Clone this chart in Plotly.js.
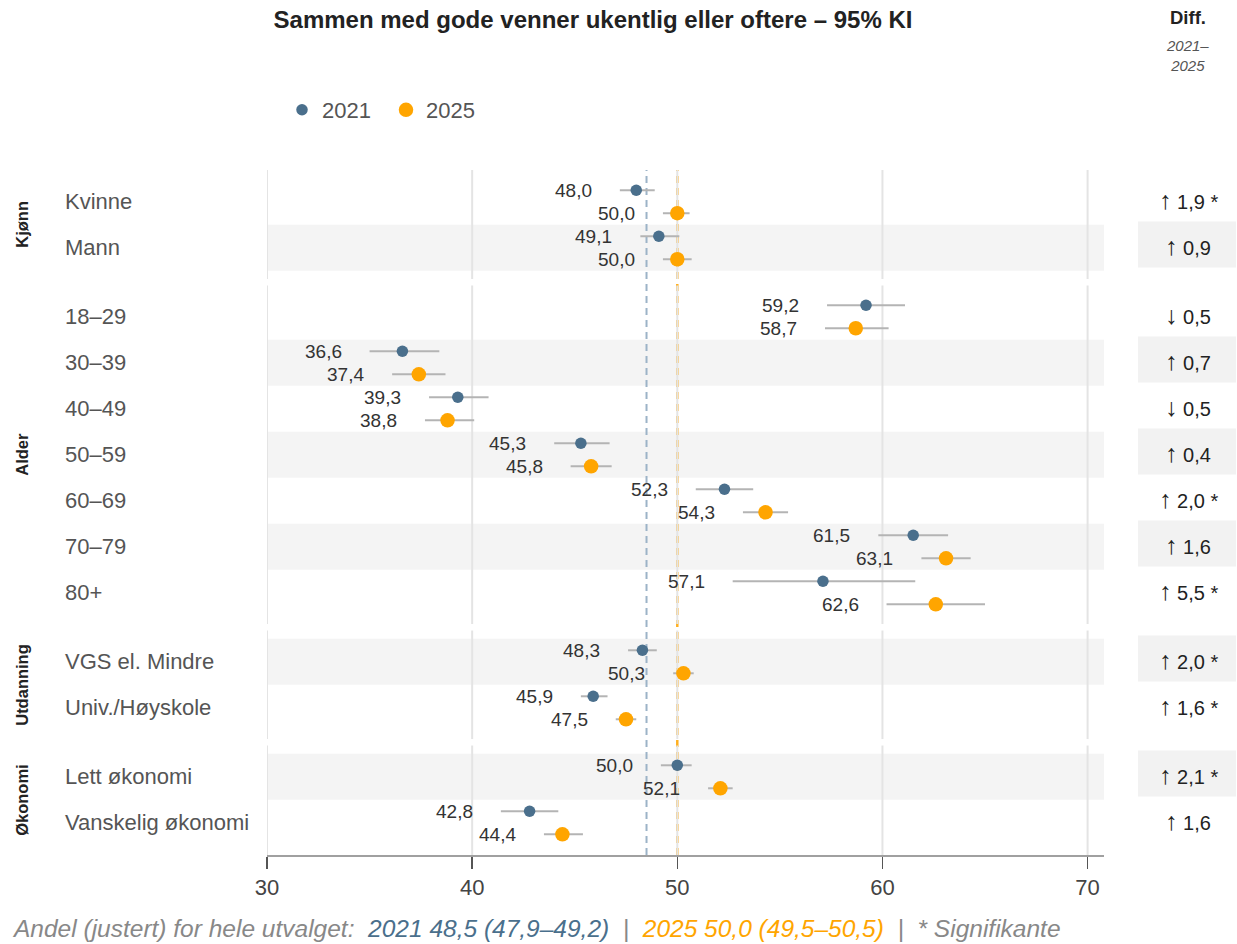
<!DOCTYPE html>
<html>
<head>
<meta charset="utf-8">
<script src="https://cdn.plot.ly/plotly-3.0.1.min.js"></script>
<style>html,body{margin:0;padding:0;background:#fff;}#chart{width:1237px;height:944px;}</style>
</head>
<body>
<div id="chart"></div>
<script>
// ---------- data ----------
const groups = ['Kjønn', 'Alder', 'Utdanning', 'Økonomi'];
const categories = ['Kvinne', 'Mann', '18–29', '30–39', '40–49', '50–59', '60–69', '70–79', '80+',
  'VGS el. Mindre', 'Univ./Høyskole', 'Lett økonomi', 'Vanskelig økonomi'];
const categoryGroup = [0, 0, 1, 1, 1, 1, 1, 1, 1, 2, 2, 3, 3];

const val2021 = [48.0, 49.1, 59.2, 36.6, 39.3, 45.3, 52.3, 61.5, 57.1, 48.3, 45.9, 50.0, 42.8];
const lo2021  = [47.2, 48.2, 57.3, 35.0, 37.9, 44.0, 50.9, 59.8, 52.7, 47.6, 45.3, 49.2, 41.4];
const hi2021  = [48.9, 50.1, 61.1, 38.4, 40.8, 46.7, 53.7, 63.2, 61.6, 49.0, 46.6, 50.7, 44.2];

const val2025 = [50.0, 50.0, 58.7, 37.4, 38.8, 45.8, 54.3, 63.1, 62.6, 50.3, 47.5, 52.1, 44.4];
const lo2025  = [49.3, 49.3, 57.2, 36.1, 37.7, 44.8, 53.2, 61.9, 60.2, 49.8, 47.0, 51.5, 43.5];
const hi2025  = [50.6, 50.7, 60.3, 38.7, 40.1, 46.8, 55.4, 64.3, 65.0, 50.8, 48.0, 52.7, 45.4];

const diffValues  = [1.9, 0.9, -0.5, 0.7, -0.5, 0.4, 2.0, 1.6, 5.5, 2.0, 1.6, 2.1, 1.6];
const diffSignif  = [true, false, false, false, false, false, true, false, true, true, true, true, false];

const overall2021 = 48.5, overall2021Lo = 47.9, overall2021Hi = 49.2;
const overall2025 = 50.0, overall2025Lo = 49.5, overall2025Hi = 50.5;

const xTicks = [30, 40, 50, 60, 70];

// ---------- styling ----------
const C21 = '#4a6f8c', C25 = '#ffa500';
const FONT = 'Liberation Sans, Arial, Helvetica, sans-serif';
const fmt = v => v.toFixed(1).replace('.', ',');

// row positions: 1 unit per row, extra half unit between groups
const pos = categories.map((c, i) => i + 0.5 * categoryGroup[i]);
const OFF = 0.25;
const yTop = -0.69, yBot = 14.2;

function ciXY(lo, hi, off) {
  const x = [], y = [];
  lo.forEach((l, i) => { x.push(l, hi[i], null); y.push(pos[i] + off, pos[i] + off, null); });
  return {x, y};
}
const ci21 = ciXY(lo2021, hi2021, -OFF);
const ci25 = ciXY(lo2025, hi2025, OFF);

const traces = [
  {type: 'scatter', mode: 'lines', x: ci21.x, y: ci21.y, line: {color: '#b4b4b4', width: 2},
   showlegend: false, hoverinfo: 'skip'},
  {type: 'scatter', mode: 'lines', x: ci25.x, y: ci25.y, line: {color: '#b4b4b4', width: 2},
   showlegend: false, hoverinfo: 'skip'},
  {type: 'scatter', mode: 'markers', name: '2021', x: val2021, y: pos.map(p => p - OFF),
   marker: {color: C21, size: 11.5}},
  {type: 'scatter', mode: 'markers', name: '2025', x: val2025, y: pos.map(p => p + OFF),
   marker: {color: C25, size: 14.5}}
];

// ---------- shapes ----------
const shapes = [];
const plotL = 267, plotR = 1104, W = plotR - plotL;
const px2paper = px => (px - plotL) / W;

pos.forEach((p, i) => {
  if (i % 2 === 1) {
    shapes.push({type: 'rect', layer: 'below', xref: 'paper', yref: 'y', x0: 0, x1: 1,
      y0: p - 0.5, y1: p + 0.5, fillcolor: '#f4f4f4', line: {width: 0}});
    shapes.push({type: 'rect', layer: 'below', xref: 'paper', yref: 'y',
      x0: px2paper(1138), x1: px2paper(1236),
      y0: p - 0.57, y1: p + 0.43, fillcolor: '#f2f2f2', line: {width: 0}});
  }
});

const gapMids = [];
for (let g = 0; g < groups.length - 1; g++) {
  const last = Math.max(...pos.filter((p, i) => categoryGroup[i] === g));
  gapMids.push(last + 0.75);
}
for (let g = 0; g < groups.length; g++) {
  const y0 = g === 0 ? yTop : gapMids[g - 1] + 0.07;
  const y1 = g === groups.length - 1 ? yBot : gapMids[g] - 0.07;
  xTicks.forEach(t => {
    shapes.push({type: 'line', layer: 'below', xref: 'x', yref: 'y', x0: t, x1: t, y0: y0, y1: y1,
      line: {color: '#e4e4e4', width: 2}});
  });
}

shapes.push({type: 'line', layer: 'below', xref: 'x', yref: 'paper', x0: overall2021, x1: overall2021,
  y0: 0, y1: 1, line: {color: '#9cb3c7', width: 2, dash: '7px,5px'}});
shapes.push({type: 'line', layer: 'below', xref: 'x', yref: 'paper', x0: overall2025, x1: overall2025,
  y0: 0, y1: 1, line: {color: '#ffb020', width: 2.5, dash: '7px,5px'}});

// ---------- annotations ----------
const ann = [];
categories.forEach((c, i) => {
  ann.push({x: lo2021[i], y: pos[i] - OFF, xref: 'x', yref: 'y', text: fmt(val2021[i]),
    xanchor: 'right', yanchor: 'middle', xshift: -26, showarrow: false,
    font: {family: FONT, size: 19, color: '#333'}});
  ann.push({x: lo2025[i], y: pos[i] + OFF, xref: 'x', yref: 'y', text: fmt(val2025[i]),
    xanchor: 'right', yanchor: 'middle', xshift: -26, showarrow: false,
    font: {family: FONT, size: 19, color: '#333'}});
  ann.push({x: px2paper(63), y: pos[i], xref: 'paper', yref: 'y', text: c,
    xanchor: 'left', yanchor: 'middle', showarrow: false,
    font: {family: FONT, size: 22, color: '#555'}});
  const arrow = diffValues[i] >= 0 ? '↑' : '↓';
  const d = '<span style="font-size:25px">' + arrow + '</span> ' + fmt(Math.abs(diffValues[i])) + (diffSignif[i] ? ' *' : '');
  ann.push({x: px2paper(1188), y: pos[i], xref: 'paper', yref: 'y', text: d, yshift: 2,
    xanchor: 'center', yanchor: 'middle', showarrow: false,
    font: {family: FONT, size: 20, color: '#222'}});
});
groups.forEach((g, gi) => {
  const ps = pos.filter((p, i) => categoryGroup[i] === gi);
  const mid = (Math.min(...ps) + Math.max(...ps)) / 2;
  ann.push({x: px2paper(22), y: mid, xref: 'paper', yref: 'y', text: '<b>' + g + '</b>',
    textangle: -90, xanchor: 'center', yanchor: 'middle', showarrow: false,
    font: {family: FONT, size: 16.5, color: '#222'}});
});
const plotT = 170, plotB = 855, H = plotB - plotT;
const py2paper = py => (plotB - py) / H;
ann.push({x: px2paper(1188), y: py2paper(18), xref: 'paper', yref: 'paper', text: '<b>Diff.</b>',
  xanchor: 'center', yanchor: 'middle', showarrow: false, font: {family: FONT, size: 18.5, color: '#222'}});
ann.push({x: px2paper(1187), y: py2paper(55), xref: 'paper', yref: 'paper', text: '<i>2021–<br>2025</i>',
  xanchor: 'center', yanchor: 'middle', showarrow: false, font: {family: FONT, size: 15, color: '#555'}});
const footer = '<i>Andel (justert) for hele utvalget:  ' +
  '<span style="color:' + C21 + '">2021 ' + fmt(overall2021) + ' (' + fmt(overall2021Lo) + '–' + fmt(overall2021Hi) + ')</span>' +
  '  |  ' +
  '<span style="color:' + C25 + '">2025 ' + fmt(overall2025) + ' (' + fmt(overall2025Lo) + '–' + fmt(overall2025Hi) + ')</span>' +
  '  |  * Signifikante</i>';
ann.push({x: px2paper(10), y: py2paper(928), xref: 'paper', yref: 'paper', text: footer,
  xanchor: 'left', yanchor: 'middle', showarrow: false, font: {family: FONT, size: 24.5, color: '#888'}});

const layout = {
  width: 1237, height: 944,
  margin: {l: plotL, r: 1237 - plotR, t: plotT, b: 944 - plotB, pad: 0},
  paper_bgcolor: '#fff', plot_bgcolor: 'rgba(0,0,0,0)',
  font: {family: FONT, color: '#444'},
  title: {text: '<b>Sammen med gode venner ukentlig eller oftere – 95% KI</b>',
    x: 593 / 1237, xanchor: 'center', xref: 'container', y: 1 - 20 / 944, yanchor: 'middle', yref: 'container',
    font: {family: FONT, size: 24, color: '#222'}},
  xaxis: {range: [30, 70.8], tickvals: xTicks, ticktext: xTicks.map(String), ticks: 'outside', ticklen: 12,
    tickwidth: 1.5, tickcolor: '#555', showline: true, linecolor: '#a0a0a0', linewidth: 2,
    showgrid: false, zeroline: false, tickfont: {family: FONT, size: 22, color: '#444'}, fixedrange: true},
  yaxis: {range: [yBot, yTop], visible: false, showgrid: false, zeroline: false, fixedrange: true},
  showlegend: true,
  legend: {orientation: 'h', x: px2paper(282), xanchor: 'left', y: py2paper(110), yanchor: 'middle',
    entrywidth: 59, entrywidthmode: 'pixels',
    font: {family: FONT, size: 22, color: '#555'}, bgcolor: 'rgba(0,0,0,0)'},
  shapes: shapes,
  annotations: ann
};

Plotly.newPlot('chart', traces, layout, {displayModeBar: false, staticPlot: true});
</script>
</body>
</html>
